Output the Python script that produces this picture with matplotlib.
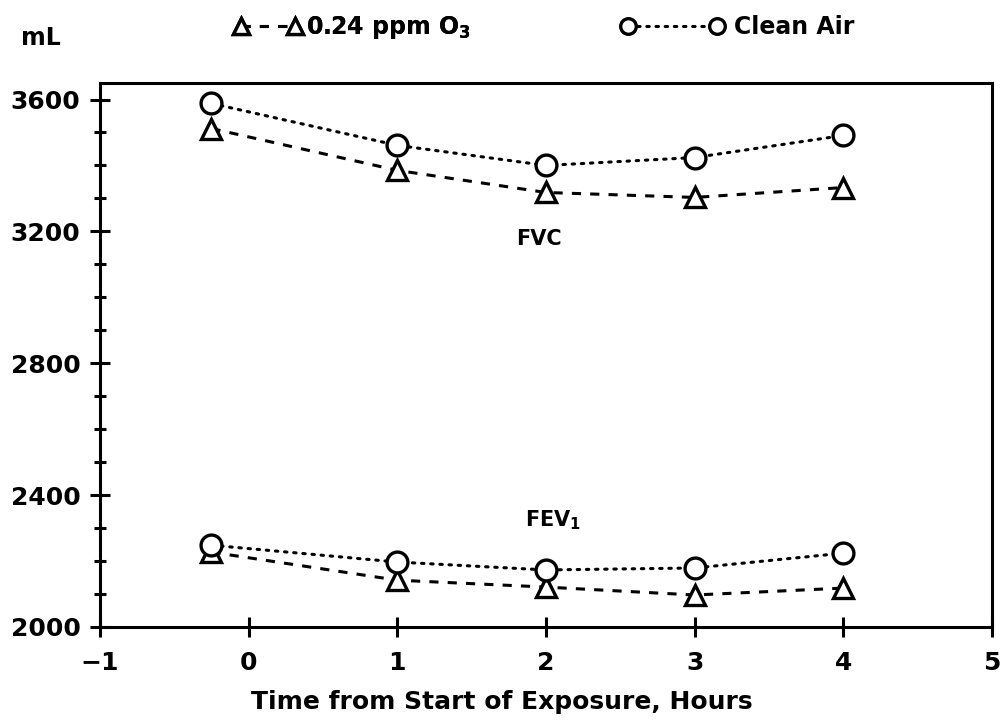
import matplotlib.pyplot as plt
from matplotlib.ticker import MultipleLocator

# time from start of exposure (hours)
hours = [-0.25, 1, 2, 3, 4]

# FVC (mL)
fvc_ozone = [3512, 3385, 3318, 3303, 3333]
fvc_clean = [3588, 3461, 3400, 3424, 3491]

# FEV1 (mL)
fev1_ozone = [2227, 2142, 2121, 2097, 2118]
fev1_clean = [2248, 2197, 2173, 2179, 2224]

ozone_label = "0.24 ppm O$_3$"
clean_label = "Clean Air"

plt.rcParams["font.family"] = ["DejaVu Sans"]
plt.rcParams["font.weight"] = "bold"
plt.rcParams["mathtext.default"] = "bf"

fig = plt.figure(figsize=(10.04, 7.22), dpi=100)
ax = fig.add_axes([0.0996, 0.1316, 0.8884, 0.7534])

mk = dict(markersize=15, markeredgewidth=2.4, markerfacecolor="white",
          markeredgecolor="black", color="black", lw=2.2)
dashed = (0, (3, 3))
dotted = (0, (0.8, 2.2))

oz, = ax.plot(hours, fvc_ozone, marker="^", linestyle=dashed,
              label=ozone_label, **mk)
cl, = ax.plot(hours, fvc_clean, marker="o", linestyle=dotted,
              dash_capstyle="round", label=clean_label, **mk)
ax.plot(hours, fev1_ozone, marker="^", linestyle=dashed, **mk)
ax.plot(hours, fev1_clean, marker="o", linestyle=dotted,
        dash_capstyle="round", **mk)

ax.set_xlim(-1, 5)
ax.set_ylim(2000, 3650)
ax.set_xticks(range(-1, 6))
ax.set_xticklabels(["\u22121", "0", "1", "2", "3", "4", "5"])
ax.set_yticks([2000, 2400, 2800, 3200, 3600])
ax.yaxis.set_minor_locator(MultipleLocator(100))

for s in ax.spines.values():
    s.set_linewidth(2.2)
ax.tick_params(axis="both", which="major", direction="inout", length=14,
               width=2.2, labelsize=18)
ax.tick_params(axis="y", which="major", pad=7)
ax.tick_params(axis="x", which="major", pad=10)
ax.tick_params(axis="y", which="minor", direction="inout", length=9, width=2.2)
ax.tick_params(top=False, right=False)

ax.set_xlabel("Time from Start of Exposure, Hours", fontsize=18,
              fontweight="bold")
ax.xaxis.set_label_coords(0.45, -0.115)

ax.text(1.95, 3160, "FVC", fontsize=15, fontweight="bold", ha="center")
ax.text(2.05, 2305, "FEV$_1$", fontsize=15, fontweight="bold", ha="center")
fig.text(0.041, 0.948, "mL", fontsize=17, fontweight="bold", ha="center", va="center")

leg_kw = dict(frameon=False, numpoints=2, markerscale=0.75, borderaxespad=0,
              borderpad=0, prop={"weight": "bold", "size": 17})
leg1 = fig.legend(handles=[oz], loc="center left", handlelength=2.9,
                  handletextpad=0.15, bbox_to_anchor=(0.233, 0.962), **leg_kw)
fig.add_artist(leg1)
fig.legend(handles=[cl], loc="center left", handlelength=4.4,
           handletextpad=0.4, bbox_to_anchor=(0.618, 0.962), **leg_kw)

fig.savefig("out.png", dpi=100)
